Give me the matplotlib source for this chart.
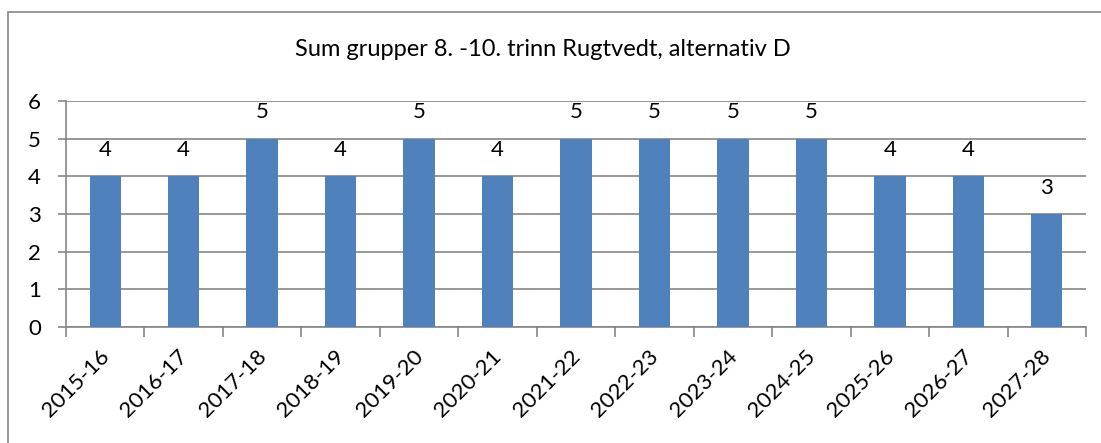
import matplotlib
matplotlib.use('Agg')
import matplotlib.pyplot as plt
from matplotlib.patches import Rectangle
from matplotlib.transforms import ScaledTranslation

years = ['2015-16', '2016-17', '2017-18', '2018-19', '2019-20', '2020-21', '2021-22',
         '2022-23', '2023-24', '2024-25', '2025-26', '2026-27', '2027-28']
groups = [4, 4, 5, 4, 5, 4, 5, 5, 5, 5, 4, 4, 3]
title = 'Sum grupper 8. -10. trinn Rugtvedt, alternativ D'

plt.rcParams['font.family'] = ['Lato', 'DejaVu Sans']
grid_col = '#868686'

fig = plt.figure(figsize=(11.01, 4.43), dpi=100)
ax = fig.add_axes([66 / 1101, 1 - 327 / 443, (1086 - 66) / 1101, (327 - 101) / 443])

x = list(range(len(years)))
ax.bar(x, groups, width=0.4, color='#4F81BD', zorder=3)
for xi, v in zip(x, groups):
    ax.annotate(str(v), (xi, v), xytext=(0, 19), textcoords='offset points',
                ha='center', va='center', fontsize=16)

ax.set_xlim(-0.5, len(years) - 0.5)
ax.set_ylim(0, 6)
ax.set_yticks(range(7))
ax.yaxis.grid(True, color=grid_col, linewidth=1.2, zorder=0)
ax.tick_params(axis='y', length=6, width=1.2, color=grid_col, labelsize=16, pad=12)
ax.tick_params(axis='x', length=0, labelsize=16)

ax.set_xticks(x)
ax.set_xticklabels(years, rotation=45, ha='right', va='top', rotation_mode='anchor')
ax.set_xticks([i - 0.5 for i in range(len(years) + 1)], minor=True)
ax.tick_params(axis='x', which='minor', length=7, width=1.2, color=grid_col)
shift = ScaledTranslation(-6 / 100, -14 / 100, fig.dpi_scale_trans)
for lab in ax.get_xticklabels():
    lab.set_transform(lab.get_transform() + shift)

for s in ['top', 'right']:
    ax.spines[s].set_visible(False)
for s in ['left', 'bottom']:
    ax.spines[s].set_color(grid_col)
    ax.spines[s].set_linewidth(1.2)

fig.text(543 / 1101, 1 - 50 / 443, title, ha='center', va='center', fontsize=17)

# outer chart frame (only left and top visible in the crop)
fig.add_artist(Rectangle((8 / 1101, -0.1), 1.2, 1 - 12 / 443 + 0.1, transform=fig.transFigure,
                         fill=False, edgecolor=grid_col, linewidth=1.2))

fig.savefig('out.png', dpi=100)
